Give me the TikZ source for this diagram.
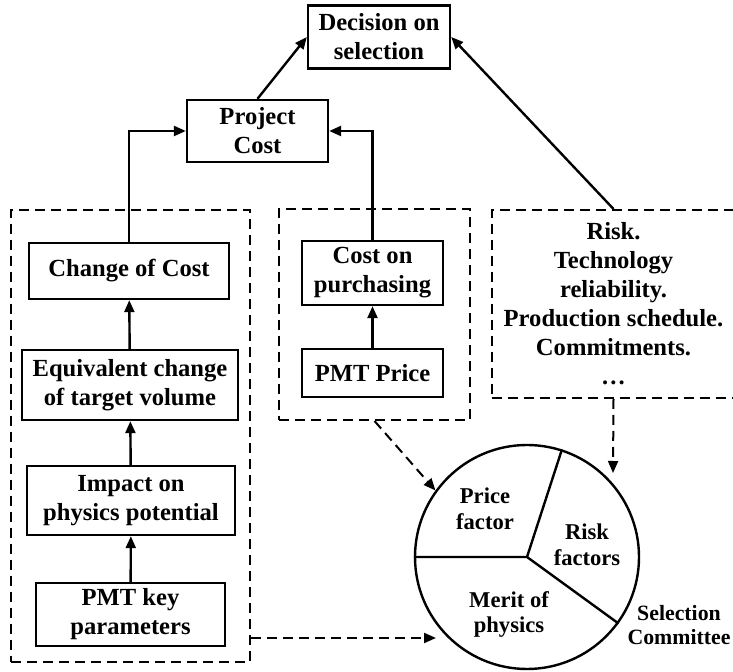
\documentclass[tikz,border=0pt]{standalone}
\usepackage{fontspec}
\setmainfont{Liberation Serif}
\usetikzlibrary{arrows.meta}

\tikzset{
  box/.style={draw, line width=1.2pt, align=center, inner sep=2pt},
  group/.style={draw, line width=1pt, dash pattern=on 5pt off 3pt},
  arr/.style={line width=1.2pt, -{Triangle[length=6pt,width=5pt]}},
  darr/.style={line width=1pt, dash pattern=on 5pt off 3pt, -{Triangle[length=6pt,width=5pt]}},
  pielabel/.style={align=center, font=\fontsize{11.3}{12.8}\selectfont\bfseries},
}

\begin{document}
\begin{tikzpicture}[x=0.5pt,y=-0.5pt, every node/.style={font=\fontsize{12.3}{14.5}\selectfont\bfseries}]
  \useasboundingbox (0,0) rectangle (733,672);
  % dashed groups
  \node[group, minimum width=119.5pt, minimum height=226pt] (leftgrp) at (130.5,436) {};
  \node[group, minimum width=95.5pt, minimum height=105.5pt] (midgrp) at (374.5,314.5) {};
  \node[group, minimum width=121.5pt, minimum height=94pt, align=center] (riskgrp) at (613.5,304)
    {Risk.\\Technology\\reliability.\\Production schedule.\\Commitments.\\\dots};
  % boxes
  \node[box, minimum width=71pt, minimum height=31.5pt] (decision) at (379,37) {Decision on\\selection};
  \node[box, minimum width=70.5pt, minimum height=31pt] (projcost) at (257.5,131) {Project\\Cost};
  \node[box, minimum width=100pt, minimum height=28pt] (chgcost) at (129,271) {Change of Cost};
  \node[box, minimum width=108pt, minimum height=35pt] (equiv) at (130,385) {Equivalent change\\of target volume};
  \node[box, minimum width=104pt, minimum height=34.5pt] (impact) at (131,500.5) {Impact on\\physics potential};
  \node[box, minimum width=94.5pt, minimum height=31.5pt] (pmtkey) at (130.5,614.5) {PMT key\\parameters};
  \node[box, minimum width=70.5pt, minimum height=32pt] (purch) at (372.5,273) {Cost on\\purchasing};
  \node[box, minimum width=70.5pt, minimum height=24pt] (price) at (372.5,373) {PMT Price};
  % selection committee pie
  \node[draw, circle, line width=1.2pt, minimum size=112pt] (pie) at (527,557) {};
  \draw[line width=1.2pt] (pie.180) -- (pie.center) -- (pie.72) (pie.center) -- (pie.-36);
  \node[pielabel] (pricef) at (485,509) {Price\\factor};
  \node[pielabel] (riskf) at (587,545) {Risk\\factors};
  \node[pielabel] (merit) at (509,614.5) {Merit of\\physics};
  \node[align=center, font=\fontsize{10.9}{12.2}\selectfont\bfseries] (committee) at (679,625) {Selection\\Committee};
  \coordinate (meritin) at (436,638);
  \coordinate (riskin) at (613,473);
  % arrows
  \draw[arr] (pmtkey) -- (impact);
  \draw[arr] (impact) -- (equiv);
  \draw[arr] (equiv) -- (chgcost);
  \draw[arr] (price) -- (purch);
  \draw[arr] (chgcost.north) |- (projcost.west);
  \draw[arr] (purch.north) |- (projcost.east);
  \draw[arr] (projcost.north) -- (decision.west);
  \draw[arr] (riskgrp.north) -- (decision.east);
  \draw[darr] (midgrp.south) -- (pie.144);
  \draw[darr] (meritin -| leftgrp.east) -- (meritin);
  \draw[darr] (riskgrp.south) -- (riskin);
\end{tikzpicture}
\end{document}
